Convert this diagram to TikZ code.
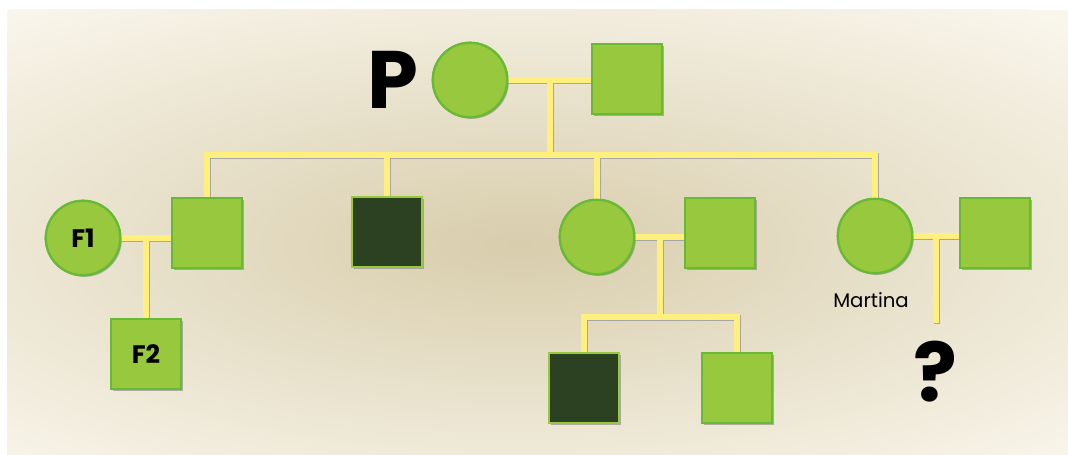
\documentclass[tikz,border=0pt]{standalone}
\usepackage{fontspec}
\setmainfont{Poppins}
\usetikzlibrary{positioning,shadows,calc}
\definecolor{BgLight}{RGB}{249,246,236}
\definecolor{BgDark}{RGB}{216,205,172}
\definecolor{LeafGreen}{RGB}{151,200,61}
\definecolor{EdgeGreen}{RGB}{104,186,52}
\definecolor{DarkLeaf}{RGB}{44,64,34}
\definecolor{LineYellow}{RGB}{255,240,125}
\tikzset{female/.style={circle,minimum size=18.6mm,inner sep=0pt,fill=LeafGreen,draw=EdgeGreen,line width=1.6pt,
			drop shadow={shadow xshift=0.4mm,shadow yshift=-0.4mm,opacity=0.35}},
	male/.style={rectangle,minimum size=17.5mm,inner sep=0pt,fill=LeafGreen,draw=EdgeGreen,line width=1.6pt,
			drop shadow={shadow xshift=0.4mm,shadow yshift=-0.4mm,opacity=0.35}},
	affected/.style={male,fill=DarkLeaf,draw=LeafGreen},
	bond/.style={draw=LineYellow,line width=4.2pt,line cap=rect,
			preaction={draw=black!35,line width=4.2pt,line cap=rect,transform canvas={xshift=0.3mm,yshift=-0.3mm}}}}
\newcommand{\bigsign}{\fontsize{58}{60}\selectfont\bfseries}
\newcommand{\tagsign}{\fontsize{18}{21}\selectfont\bfseries}

\begin{document}
\begin{tikzpicture}[x=0.25mm,y=-0.25mm]
	\useasboundingbox (0,0) rectangle (1068,455);
	% backdrop
	\fill[white] (0,0) rectangle (1068,455);
	\fill[BgLight] (7,10) rectangle (1068,455);
	\begin{scope}
	\clip (7,10) rectangle (1068,455);
	\shade[inner color=BgDark,outer color=BgLight] (520,245) ellipse (820 and 300);
	\end{scope}
	% parents
	\node[female] (pmom) at (470,80) {};
	\node[male] (pdad) at (627,79) {};
	\node (plabel) at (393,80) {\bigsign P};
	% first generation
	\node[female] (fone) at (83,238) {\tagsign F1};
	\node[male] (sonA) at (207,233) {};
	\node[affected] (sonB) at (387,232) {};
	\node[female] (daughterA) at (597,237) {};
	\node[male] (inlawA) at (720,233) {};
	\node[female] (martina) at (875,236) {};
	\node[male] (inlawB) at (995,233) {};
	\node (martinalabel) at (871,300) {\fontsize{14}{16}\selectfont Martina};
	% second generation
	\node[male] (ftwo) at (146,354) {\tagsign F2};
	\node[affected] (grandA) at (584,388) {};
	\node[male] (grandB) at (737,388) {};
	\node (unknown) at (935,372) {\bigsign ?};
	% junctions
	\coordinate (pmid) at ($(pmom.east)!0.5!(pmom.east -| pdad.west)$);
	\coordinate (sibbar) at (pmid |- 0,155);
	\coordinate (fmid) at ($(fone.east)!0.5!(fone.east -| sonA.west)$);
	\coordinate (dmid) at ($(daughterA.east)!0.5!(daughterA.east -| inlawA.west)$);
	\coordinate (dbar) at (dmid |- 0,317);
	\coordinate (mmid) at ($(martina.east)!0.5!(martina.east -| inlawB.west)$);
	\coordinate (mend) at (mmid |- 0,320);
	\draw[bond] (pmom.east) -- (pmom.east -| pdad.west)
		(pmid) -- (sibbar)
		(sonA.north |- sibbar) -- (martina.north |- sibbar)
		(sonA.north |- sibbar) -- (sonA.north)
		(sonB.north |- sibbar) -- (sonB.north)
		(daughterA.north |- sibbar) -- (daughterA.north)
		(martina.north |- sibbar) -- (martina.north)
		(fone.east) -- (fone.east -| sonA.west)
		(fmid) -- (fmid |- ftwo.north)
		(daughterA.east) -- (daughterA.east -| inlawA.west)
		(dmid) -- (dbar)
		(grandA.north |- dbar) -- (grandB.north |- dbar)
		(grandA.north |- dbar) -- (grandA.north)
		(grandB.north |- dbar) -- (grandB.north)
		(martina.east) -- (martina.east -| inlawB.west)
		(mmid) -- (mend);
	% redraw people above the lines
	\foreach \who/\sty in {pmom/female,pdad/male,fone/female,sonA/male,sonB/affected,daughterA/female,inlawA/male,martina/female,inlawB/male,ftwo/male,grandA/affected,grandB/male}
		\node[\sty] at (\who.center) {};
	\node at (fone.center) {\tagsign F1};
	\node at (ftwo.center) {\tagsign F2};
\end{tikzpicture}
\end{document}
